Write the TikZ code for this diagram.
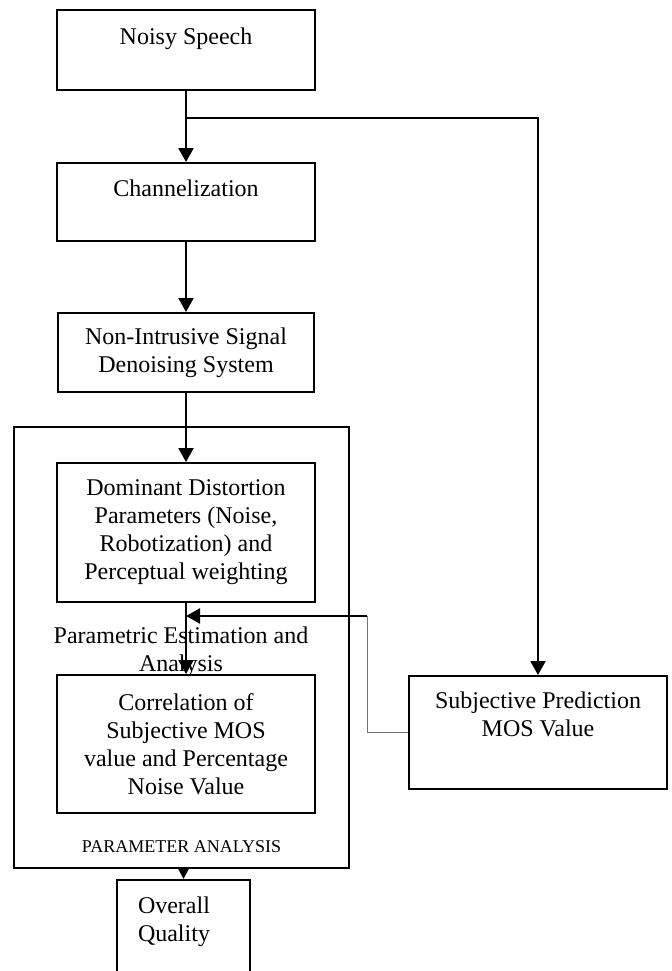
\documentclass[tikz,border=0pt]{standalone}
\usepackage{fontspec}
\setmainfont{Liberation Serif}
\usepackage{tikz}
\usetikzlibrary{positioning, arrows.meta}

\begin{document}
\begin{tikzpicture}[
				x=0.5pt, y=-0.5pt,
				>={Triangle[length=7pt, width=7.5pt]},
				every node/.style={font=\fontsize{12}{14}\selectfont},
				block/.style={draw, line width=1pt, align=center, minimum width=129pt, inner sep=2pt},
				flow/.style={->, line width=1.1pt},
				feedback/.style={line width=0.5pt, draw=black!55}]
			
			\useasboundingbox (0,0) rectangle (672,971);
			
			\node[block, minimum height=40pt] (speech) at (186,50) {Noisy Speech\\~};
			\node[block, minimum height=39pt, below=35.5pt of speech] (channel) {Channelization\\~};
			\node[block, minimum width=128pt, minimum height=39.5pt, below=35pt of channel] (denoise) {Non-Intrusive Signal\\Denoising System};
			\node[block, minimum height=69.5pt, below=34.5pt of denoise] (distortion) {Dominant Distortion\\Parameters (Noise,\\Robotization) and\\Perceptual weighting};
			\node[below=11.5pt of distortion, xshift=-2.5pt, inner sep=0pt, align=center] (estimation) {Parametric Estimation and\\Analysis};
			\node[block, minimum height=69pt, below=35.5pt of distortion] (correlation) {Correlation of\\Subjective MOS\\value and Percentage\\Noise Value};
			
			% outer frame
			\node[draw, line width=1pt, minimum width=167.5pt, minimum height=220.5pt] (analysis) at (181.5,647.5) {};
			\node[font=\fontsize{9}{11}\selectfont] (analysis_label) at (181.5,847) {PARAMETER ANALYSIS};
			
			\node[draw, line width=1pt, below=5pt of analysis, xshift=1pt, minimum height=53pt, text width=45.5pt, inner xsep=10.5pt, align=left, anchor=north] (overall) {Overall\\Quality\\~};
			
			\node[block, minimum height=56.5pt] (subjective) at (538,732.5) {Subjective Prediction\\MOS Value\\[4pt]~};
			
			\coordinate[below=13.5pt of speech] (split);
			\coordinate (turn) at (367,616);
			
			\draw[flow] (speech) -- (channel);
			\draw[flow] (split) -| (subjective.north);
			\draw[flow] (channel) -- (denoise);
			\draw[flow] (denoise) -- (distortion);
			\draw[flow] (distortion) -- (correlation);
			
			\draw[feedback] (subjective.west) -| (turn);
			\draw[flow] (turn) -- (turn -| distortion.south);
			
			\draw[->, >={Triangle[length=5pt, width=5pt]}, line width=1pt] (analysis.south -| overall.north) -- (overall.north);
			
		\end{tikzpicture}
\end{document}
